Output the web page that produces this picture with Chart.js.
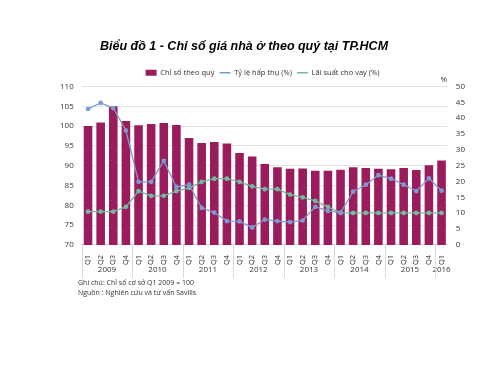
<!DOCTYPE html>
<html>
<head>
<meta charset="utf-8">
<script src="https://cdn.jsdelivr.net/npm/chart.js@4"></script>
<style>
  body { margin: 0; background: #fff; }
  #wrap { position: relative; width: 500px; height: 375px; }
  .title { position: absolute; left: 100px; top: 39px; font: italic bold 12.5px "Liberation Sans", Arial, sans-serif; color: #000; white-space: nowrap; }
  .note { position: absolute; left: 78px; font: 7px "Open Sans", sans-serif; color: #333; }
</style>
</head>
<body>
<div id="wrap">
  <canvas id="chart" width="500" height="375"></canvas>
  <div class="title">Biểu đồ 1 - Chỉ số giá nhà ở theo quý tại TP.HCM</div>
  <div class="note" style="top:278px">Ghi chú: Chỉ số cơ sở Q1 2009 = 100</div>
  <div class="note" style="top:288px">Nguồn : Nghiên cứu và tư vấn Savills</div>
</div>
<script>
const quarters = ['Q1','Q2','Q3','Q4','Q1','Q2','Q3','Q4','Q1','Q2','Q3','Q4','Q1','Q2','Q3','Q4',
  'Q1','Q2','Q3','Q4','Q1','Q2','Q3','Q4','Q1','Q2','Q3','Q4','Q1']
const years = ['2009', '2010', '2011', '2012', '2013', '2014', '2015', '2016']
const yearSizes = [4, 4, 4, 4, 4, 4, 4, 1]

// Chỉ số theo quý (trục trái)
const priceIndex = [100, 100.9, 105, 101.3, 100.2, 100.5, 100.8, 100.3,
  97, 95.7, 96, 95.6, 93.2, 92.3, 90.4, 89.6,
  89.2, 89.3, 88.7, 88.7, 89.0, 89.6, 89.4, 89.2,
  89.1, 89.4, 88.9, 90.1, 91.3]
// Tỷ lệ hấp thụ (%) (trục phải)
const absorption = [42.9, 44.8, 43.2, 36.1, 19.9, 19.9, 26.5, 18.3,
  19.0, 11.7, 10.2, 7.5, 7.4, 5.5, 8.0, 7.5,
  7.2, 7.7, 12.0, 10.7, 10.2, 16.8, 19.0, 22.0,
  20.9, 19.0, 17.0, 21.0, 17.1]
// Lãi suất cho vay (%) (trục phải)
const lending = [10.5, 10.5, 10.5, 12.0, 17.0, 15.5, 15.5, 17.0,
  18.0, 19.9, 20.9, 20.9, 19.9, 18.5, 17.6, 17.6,
  15.9, 15.0, 13.9, 12.0, 10.1, 10.1, 10.1, 10.1,
  10.1, 10.1, 10.1, 10.1, 10.1]

const tickFont = { family: 'Open Sans', size: 8 }
const legendOrder = [2, 0, 1]

const yearPlugin = {
  id: 'years',
  afterDraw(chart) {
    const ctx = chart.ctx
    const x = chart.scales.x
    const area = chart.chartArea
    const step = x.getPixelForValue(1) - x.getPixelForValue(0)
    ctx.save()
    ctx.strokeStyle = '#d9d9d9'
    ctx.lineWidth = 1
    ctx.fillStyle = '#333'
    ctx.font = '8px "Open Sans"'
    ctx.textAlign = 'center'
    ctx.textBaseline = 'middle'
    let start = 0
    for (let i = 0; i < years.length; i++) {
      const end = start + yearSizes[i] - 1
      const left = x.getPixelForValue(start) - step / 2
      const right = x.getPixelForValue(end) + step / 2
      ctx.fillText(years[i], (left + right) / 2, area.bottom + 25)
      ctx.beginPath()
      ctx.moveTo(Math.round(left) + 0.5, area.bottom)
      ctx.lineTo(Math.round(left) + 0.5, area.bottom + 33)
      ctx.stroke()
      start = end + 1
    }
    // % above right axis
    ctx.fillText('%', area.right - 4, area.top - 7)
    ctx.restore()
  }
}

new Chart(document.getElementById('chart'), {
  data: {
    labels: quarters,
    datasets: [
      { type: 'line', label: 'Tỷ lệ hấp thụ (%)', data: absorption, yAxisID: 'y1',
        borderColor: '#7d9bd0', backgroundColor: '#7d9bd0', borderWidth: 1.3,
        pointRadius: 1.7, pointStyle: 'circle', tension: 0, order: 1 },
      { type: 'line', label: 'Lãi suất cho vay (%)', data: lending, yAxisID: 'y1',
        borderColor: '#73bba3', backgroundColor: '#73bba3', borderWidth: 1.3,
        pointRadius: 1.7, pointStyle: 'circle', tension: 0, order: 2 },
      { type: 'bar', label: 'Chỉ số theo quý', data: priceIndex, yAxisID: 'y',
        backgroundColor: '#9b1c5c', categoryPercentage: 1, barPercentage: 0.68, order: 3 }
    ]
  },
  options: {
    responsive: false,
    animation: false,
    layout: { padding: { left: 52, right: 27, top: 64, bottom: 86 } },
    plugins: {
      legend: {
        position: 'top',
        labels: {
          font: { family: 'Open Sans', size: 7.5 },
          color: '#333',
          boxWidth: 10,
          boxHeight: 6,
          padding: 5,
          sort: (a, b) => legendOrder.indexOf(a.datasetIndex) - legendOrder.indexOf(b.datasetIndex),
          generateLabels(chart) {
            const items = Chart.defaults.plugins.legend.labels.generateLabels(chart)
            items.forEach(it => {
              if (it.datasetIndex !== 2) { it.pointStyle = 'line'; it.lineWidth = 1.5 }
              else { it.pointStyle = 'rect' }
            })
            return items
          },
          usePointStyle: true,
          pointStyleWidth: 11
        }
      },
      tooltip: { enabled: false }
    },
    scales: {
      x: {
        grid: { display: false },
        border: { color: '#d9d9d9' },
        ticks: { font: { family: 'Open Sans', size: 7.5 }, color: '#333', minRotation: 90, maxRotation: 90, autoSkip: false, padding: 2 },
        afterFit(scale) { scale.height += 22 }
      },
      y: {
        position: 'left', min: 70, max: 110,
        ticks: { stepSize: 5, font: tickFont, color: '#333', padding: 8 },
        grid: { color: '#e3e3e3', drawTicks: false },
        border: { display: false }
      },
      y1: {
        position: 'right', min: 0, max: 50,
        ticks: { stepSize: 5, font: tickFont, color: '#333', padding: 8 },
        grid: { display: false, drawTicks: false },
        border: { display: false }
      }
    }
  },
  plugins: [yearPlugin]
});
</script>
</body>
</html>
